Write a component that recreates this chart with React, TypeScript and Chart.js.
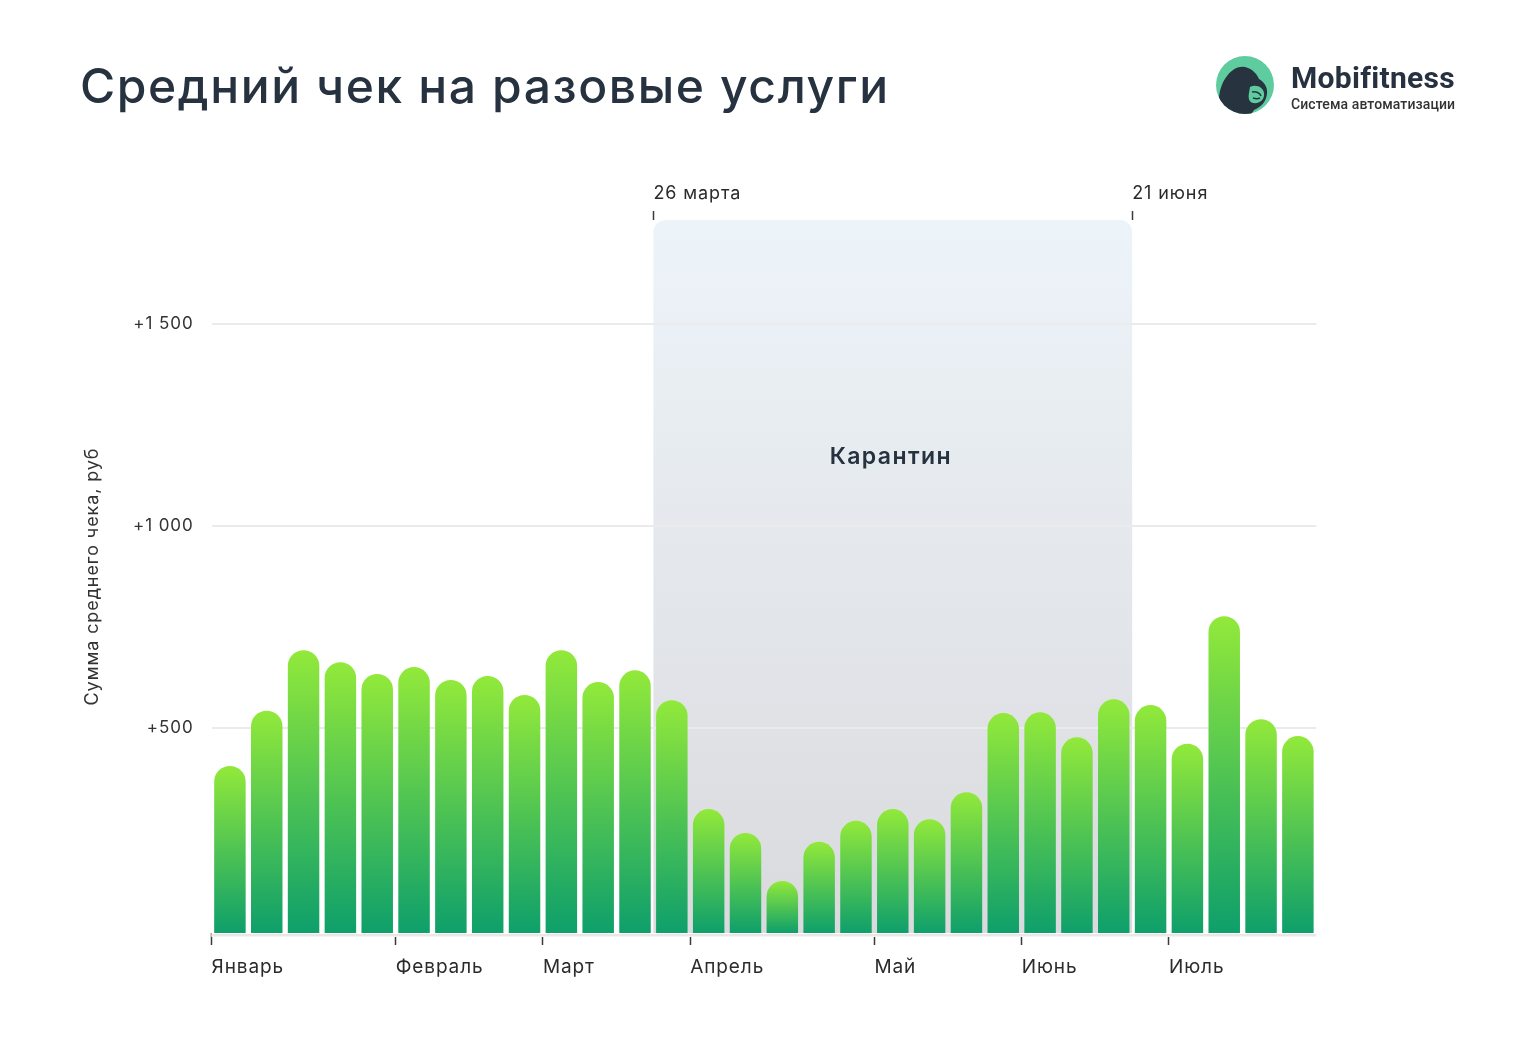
import React, { useEffect, useRef } from 'react';
import { Chart, registerables } from 'chart.js';

Chart.register(...registerables);

const chartTitle = 'Средний чек на разовые услуги';
const yAxisTitle = 'Сумма среднего чека, руб';
const quarantineTitle = 'Карантин';

const weeks = [
  'W1', 'W2', 'W3', 'W4', 'W5', 'W6', 'W7', 'W8', 'W9', 'W10',
  'W11', 'W12', 'W13', 'W14', 'W15', 'W16', 'W17', 'W18', 'W19', 'W20',
  'W21', 'W22', 'W23', 'W24', 'W25', 'W26', 'W27', 'W28', 'W29', 'W30',
];

const averageCheck = [
  405, 542, 692, 662, 633, 650, 618, 628, 581, 692,
  613, 642, 568, 298, 239, 120, 217, 269, 298, 273,
  340, 536, 538, 476, 570, 556, 460, 776, 521, 479,
];

const monthLabels = ['Январь', 'Февраль', 'Март', 'Апрель', 'Май', 'Июнь', 'Июль'];
const monthStartWeek = [0, 5, 9, 13, 18, 22, 26];

const quarantineLabels = ['26 марта', '21 июня'];
const quarantineBounds = [12, 25];

const yTickValues = [500, 1000, 1500];
const yTickLabels = ['+500', '+1 000', '+1 500'];

const FONT = 'Inter, "Noto Sans", sans-serif';

export default function App() {
  const ref = useRef<HTMLCanvasElement | null>(null);

  useEffect(() => {
    const canvas = ref.current;
    if (!canvas) return;
    Chart.defaults.font.family = FONT;

    const quarantinePlugin = {
      id: 'quarantine',
      beforeDraw(chart: any) {
        const { ctx, chartArea, scales } = chart;
        ctx.letterSpacing = '0.9px';
        const x0 = scales.x2.getPixelForValue(quarantineBounds[0]);
        const x1 = scales.x2.getPixelForValue(quarantineBounds[1]);
        const top = chartArea.top;
        const bottom = chartArea.bottom;
        const g = ctx.createLinearGradient(0, top, 0, bottom);
        g.addColorStop(0, '#edf4f9');
        g.addColorStop(1, '#dadade');
        ctx.save();
        ctx.fillStyle = g;
        ctx.beginPath();
        ctx.roundRect(x0, top, x1 - x0, bottom - top, [12, 12, 0, 0]);
        ctx.fill();
        ctx.font = `600 23px ${FONT}`;
        ctx.letterSpacing = '1.4px';
        ctx.fillStyle = '#26323f';
        ctx.textAlign = 'center';
        ctx.textBaseline = 'middle';
        ctx.fillText(quarantineTitle, (x0 + x1) / 2 - 2, top + (bottom - top) * 0.333);
        ctx.restore();
      },
      afterDraw(chart: any) {
        const { ctx, chartArea } = chart;
        ctx.save();
        ctx.fillStyle = '#ffffff';
        ctx.fillRect(chartArea.left, chartArea.bottom, chartArea.right - chartArea.left, 4);
        ctx.fillStyle = '#e8e8e8';
        ctx.fillRect(chartArea.left, chartArea.bottom + 1, chartArea.right - chartArea.left, 2.5);
        ctx.restore();
      },
    };

    const chart = new Chart(canvas, {
      type: 'bar',
      data: {
        labels: weeks,
        datasets: [
          {
            data: averageCheck,
            base: -9,
            barPercentage: 0.855,
            categoryPercentage: 1,
            borderRadius: { topLeft: 16, topRight: 16, bottomLeft: 0, bottomRight: 0 },
            borderSkipped: 'start',
            backgroundColor: (c: any) => {
              const ch = c.chart;
              const area = ch.chartArea;
              if (!area || c.type !== 'data') return '#4ec452';
              const top = ch.scales.y.getPixelForValue(c.raw);
              const g = ch.ctx.createLinearGradient(0, top, 0, area.bottom);
              g.addColorStop(0, '#92e93a');
              g.addColorStop(1, '#0e9f6b');
              return g;
            },
          } as any,
        ],
      },
      options: {
        responsive: false,
        animation: false,
        devicePixelRatio: 1,
        layout: { padding: { top: 172, bottom: 45, left: 73.5, right: 211.7 } },
        plugins: {
          legend: { display: false },
          tooltip: { enabled: false },
        },
        scales: {
          x: { display: false },
          x2: {
            type: 'linear',
            position: 'bottom',
            offset: false,
            min: 0,
            max: 30,
            afterBuildTicks: (s: any) => {
              s.ticks = monthStartWeek.map((v) => ({ value: v }));
            },
            afterFit: (s: any) => {
              s.height = 50;
            },
            ticks: {
              autoSkip: false,
              align: 'start',
              padding: 11,
              color: '#2b2b2b',
              font: { size: 19 },
              callback: (_v: any, i: number) => monthLabels[i],
            },
            grid: { offset: false, drawOnChartArea: false, tickLength: 12, tickColor: '#3a3a3a', tickWidth: 1.5 },
            border: { display: false },
          },
          x3: {
            type: 'linear',
            position: 'top',
            offset: false,
            min: 0,
            max: 30,
            afterBuildTicks: (s: any) => {
              s.ticks = quarantineBounds.map((v) => ({ value: v }));
            },
            afterFit: (s: any) => {
              s.height = 40;
            },
            ticks: {
              autoSkip: false,
              align: 'start',
              padding: 7,
              color: '#2b2b2b',
              font: { size: 18 },
              callback: (_v: any, i: number) => quarantineLabels[i],
            },
            grid: { offset: false, drawOnChartArea: false, tickLength: 9, tickColor: '#3a3a3a', tickWidth: 1.5 },
            border: { display: false },
          },
          y: {
            min: -9,
            max: 1758,
            afterBuildTicks: (s: any) => {
              s.ticks = yTickValues.map((v) => ({ value: v }));
            },
            afterFit: (s: any) => {
              s.width = 130;
            },
            ticks: {
              padding: 18,
              color: '#333333',
              font: { size: 17 },
              callback: (_v: any, i: number) => yTickLabels[i],
            },
            grid: { color: '#ebebeb', lineWidth: 2, drawTicks: false },
            border: { display: false },
            title: {
              display: true,
              text: yAxisTitle,
              color: '#333333',
              font: { size: 18 },
              padding: 0,
            },
          },
        },
      } as any,
      plugins: [quarantinePlugin],
    });
    return () => chart.destroy();
  }, []);

  return (
    <div style={{ position: 'relative', width: 1520, height: 1028 }}>
      <canvas ref={ref} width={1520} height={1020} style={{ position: 'absolute', left: 0, top: 0, width: 1520, height: 1020 }} />
      <div
        style={{
          position: 'absolute',
          left: 72,
          top: 54,
          fontFamily: FONT,
          fontSize: 48,
          fontWeight: 500,
          lineHeight: 1,
          letterSpacing: 1.6,
          color: '#26323f',
          whiteSpace: 'nowrap',
        }}
      >
        {chartTitle}
      </div>
      <svg style={{ position: 'absolute', left: 1208, top: 48 }} width={58} height={58} viewBox="0 0 58 58">
        <defs>
          <clipPath id="logoClip">
            <circle cx="29" cy="29" r="29" />
          </clipPath>
        </defs>
        <circle cx="29" cy="29" r="29" fill="#5ecc9f" />
        <g clipPath="url(#logoClip)">
          <path
            d="M4 60 C1 46 3 30 11 20 C17 12 25 9 32 12 C37 14 41 18 43 23 C48 26 52 31 51 38 C50 46 45 51 38 54 L34 60 Z"
            fill="#27343f"
          />
          <path d="M34 31 C40 28 47 31 48 37 C49 44 43 48 37 47 C33 46 32 42 33 37 Z" fill="#5ecc9f" />
          <path d="M36 36 C40 35 44 37 45 40" stroke="#27343f" strokeWidth="1.6" fill="none" />
          <path d="M37 42 C40 43 42 43 44 42" stroke="#27343f" strokeWidth="1.4" fill="none" />
        </g>
      </svg>
      <div
        style={{
          position: 'absolute',
          left: 1283,
          top: 55,
          fontFamily: 'Roboto, sans-serif',
          fontSize: 30,
          fontWeight: 700,
          lineHeight: 1,
          letterSpacing: 0.3,
          color: '#26323f',
          whiteSpace: 'nowrap',
        }}
      >
        Mobifitness
      </div>
      <div
        style={{
          position: 'absolute',
          left: 1283,
          top: 89,
          fontFamily: 'Roboto, sans-serif',
          fontSize: 14,
          fontWeight: 500,
          lineHeight: 1,
          letterSpacing: 0.1,
          color: '#333333',
          whiteSpace: 'nowrap',
        }}
      >
        Система автоматизации
      </div>
    </div>
  );
}
